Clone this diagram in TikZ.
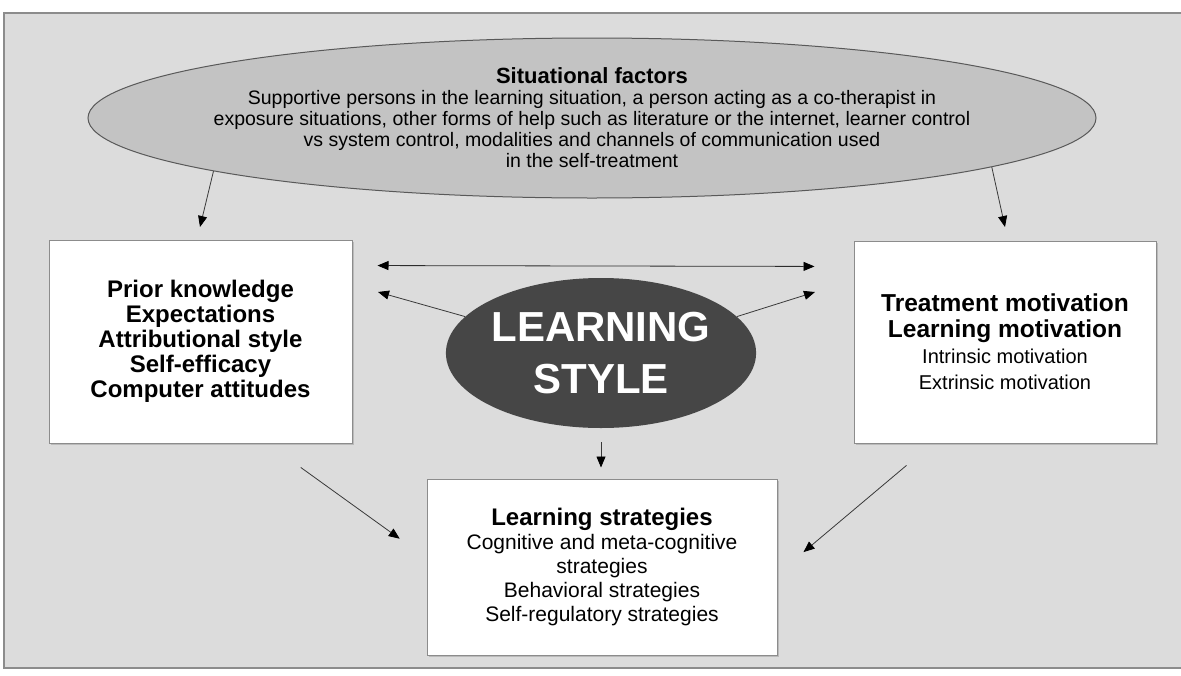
\documentclass[tikz,border=0pt]{standalone}
\usepackage{fontspec}
\setmainfont{Liberation Sans}
\usetikzlibrary{shapes.geometric,arrows.meta,shadows}

\definecolor{bggray}{HTML}{DCDCDC}
\definecolor{sitgray}{HTML}{C3C3C3}
\definecolor{lsgray}{HTML}{464646}
\definecolor{framegray}{HTML}{8C8C8C}

\tikzset{
  factorbox/.style={draw=gray!90, fill=white, line width=1pt, align=center, inner sep=0pt,
    drop shadow={shadow xshift=2pt, shadow yshift=-2pt, fill=gray!80, opacity=0.5}},
  arr/.style={draw=gray!45!black, line width=0.8pt, -{Triangle[length=11pt,width=9pt,color=black]}},
  darr/.style={draw=gray!35!black, line width=0.8pt,
    {Triangle[length=11pt,width=9pt,color=black]}-{Triangle[length=11pt,width=9pt,color=black]}},
}

\begin{document}
\begin{tikzpicture}[x=1pt,y=-1pt]
    \useasboundingbox (0,0) rectangle (1181,675);

    % Draw the grey frame
    \draw[framegray, fill=bggray, line width=1.2pt] (4,13) rectangle (1200,668);

    % Situational factors on top
    \node[ellipse, draw=gray!70!black, fill=sitgray, line width=1pt, minimum width=1008pt,
          minimum height=160pt, inner sep=0pt] (sit) at (592,118) {};
    \node[align=center, inner sep=0pt, font=\fontsize{19.5}{21}\selectfont] (sittxt) at (sit.center)
        {\textbf{\fontsize{22}{22}\selectfont Situational factors}\\
         Supportive persons in the learning situation, a person acting as a co-therapist in\\
         exposure situations, other forms of help such as literature or the internet, learner control\\
         vs system control, modalities and channels of communication used\\
         in the self-treatment};

    % The three factor boxes
    \node[factorbox, minimum width=303pt, minimum height=203pt,
          font=\fontsize{24}{25}\selectfont\bfseries] (pk) at (200.5,341.5)
        {Prior knowledge\\Expectations\\Attributional style\\Self-efficacy\\Computer attitudes};
    \node[factorbox, minimum width=302pt, minimum height=202pt,
          font=\fontsize{20}{26}\selectfont] (tm) at (1005,342)
        {\textbf{\fontsize{24.5}{26}\selectfont Treatment motivation}\\
         \textbf{\fontsize{24.5}{26}\selectfont Learning motivation}\\
         Intrinsic motivation\\Extrinsic motivation};
    \node[factorbox, minimum width=350pt, minimum height=176pt,
          font=\fontsize{21}{24}\selectfont] (lst) at (602,567)
        {\textbf{\fontsize{24}{25}\selectfont Learning strategies}\\
         Cognitive and meta-cognitive\\strategies\\Behavioral strategies\\
         Self-regulatory strategies};

    % Learning style in the middle
    \node[ellipse, fill=lsgray, minimum width=304pt, minimum height=150pt, inner sep=0pt,
          text=white, align=center, font=\fontsize{42}{52}\selectfont\bfseries] (ls) at (601,353)
        {LEARNING\\STYLE};

    % Free ends of the arrows
    \coordinate (pk-in) at (200,227);
    \coordinate (tm-in) at (1005,227);
    \coordinate (pk-back) at (378,292);
    \coordinate (tm-back) at (815,292);

    % Arrows
    \draw[arr] (sit.188.3) -- (pk-in);
    \draw[arr] (sit.353.2) -- (tm-in);
    \draw[darr, shorten <=25pt, shorten >=39pt] ([yshift=-26pt]pk.north east) -- ([yshift=-26pt]tm.north west);
    \draw[arr] (ls.165) -- (pk-back);
    \draw[arr] (ls.15) -- (tm-back);
    \draw[arr, shorten <=14pt, shorten >=11pt] (ls.south) -- (ls.south |- lst.north);
    \draw[arr, shorten <=41pt, shorten >=33pt] ([xshift=-85pt]pk.south east) -- ([yshift=9pt]lst.west);
    \draw[arr, shorten <=34pt, shorten >=34pt] ([xshift=79pt]tm.south west) -- ([yshift=-7pt]lst.east);

\end{tikzpicture}
\end{document}
